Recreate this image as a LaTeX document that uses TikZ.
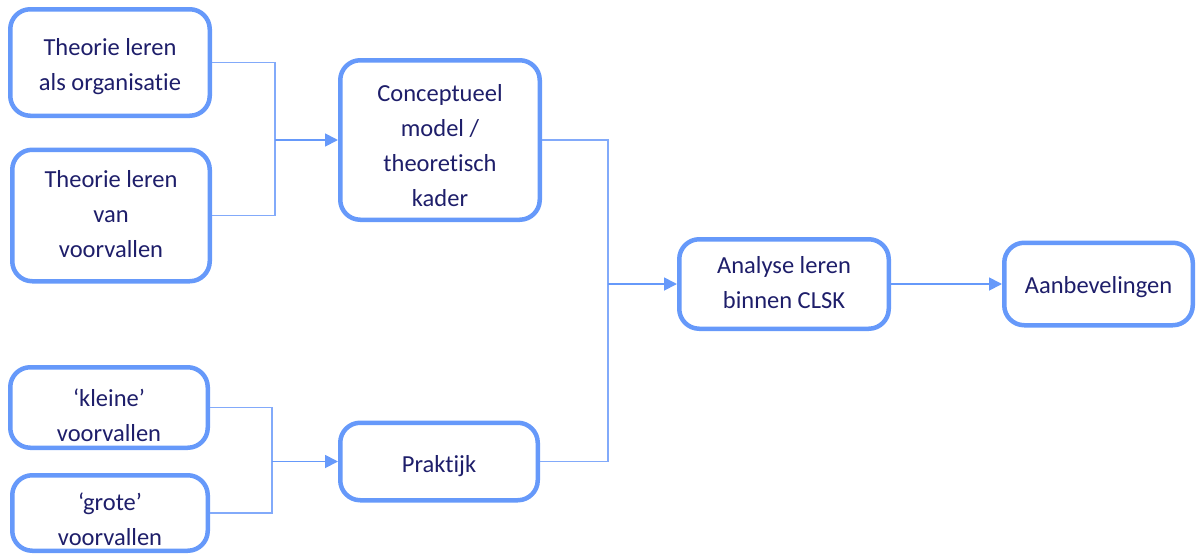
\documentclass[tikz,border=0pt]{standalone}
\usepackage{fontspec}
\setmainfont{Carlito}[Ligatures=NoCommon]
\usetikzlibrary{arrows.meta}
\definecolor{boxblue}{HTML}{6699FA}
\definecolor{linkblue}{HTML}{82AAFA}
\definecolor{inkblue}{HTML}{1E1E6A}
% centred lines of a box, lowered by the optional amount
\newcommand\boxlines[2][0pt]{%
  \raisebox{-#1}[\height][\depth]{\begin{tabular}{@{}c@{}}#2\end{tabular}}}
\tikzset{
  box/.style={draw=boxblue, line width=4.5pt, rounded corners=20pt, fill=white,
    text=inkblue, inner sep=0pt,
    font=\fontsize{24.5pt}{35pt}\selectfont},
  link/.style={draw=linkblue, line width=1.6pt},
  feed/.style={draw=boxblue, line width=1.8pt,
    -{Triangle[length=13pt,width=13pt]}}
}
\begin{document}
\begin{tikzpicture}[x=1pt,y=-1pt]
\useasboundingbox (0,0) rectangle (1196,557);

% input boxes
\node[box, minimum width=199.5pt, minimum height=106.5pt] (b1) at (110,62.5)
  {\boxlines[3pt]{Theorie leren\\als organisatie}};
\node[box, minimum width=197.5pt, minimum height=131.5pt] (b2) at (111,215.5)
  {\boxlines{Theorie leren\\van\\voorvallen}};
\node[box, minimum width=197.5pt, minimum height=80.5pt] (b3) at (109,407.5)
  {\boxlines[9pt]{‘kleine’\\voorvallen}};
\node[box, minimum width=195.5pt, minimum height=75.5pt] (b4) at (110,513)
  {\boxlines[7.5pt]{‘grote’\\voorvallen}};

% intermediate boxes
\node[box, minimum width=199.5pt, minimum height=159.5pt] (theory) at (440,140)
  {\boxlines[7pt]{Conceptueel\\model /\\theoretisch\\kader}};
\node[box, minimum width=197.5pt, minimum height=77.5pt] (prak) at (439,461.5)
  {\boxlines[4pt]{Praktijk}};

% result boxes
\node[box, minimum width=209.5pt, minimum height=89.5pt] (ana) at (784,284)
  {\boxlines{Analyse leren\\binnen CLSK}};
\node[box, minimum width=188.5pt, minimum height=82.5pt] (adv) at (1098.5,284)
  {\boxlines[2.5pt]{Aanbevelingen}};

% junction points of the brackets
\coordinate (j1) at (275,140);
\coordinate (j2) at (272,461.5);
\coordinate (j3) at (608,284);

% brackets joining pairs of boxes
\draw[link] (b1.east) -| (j1) |- (b2.east);
\draw[link] (b3.east) -| (j2) |- (b4.east);
\draw[link] (theory.east) -| (j3) |- (prak.east);

% arrows
\draw[feed] (j1) -- (theory.west);
\draw[feed] (j2) -- (prak.west);
\draw[feed] (j3) -- (ana.west);
\draw[feed] (ana.east) -- (adv.west);
\end{tikzpicture}
\end{document}
